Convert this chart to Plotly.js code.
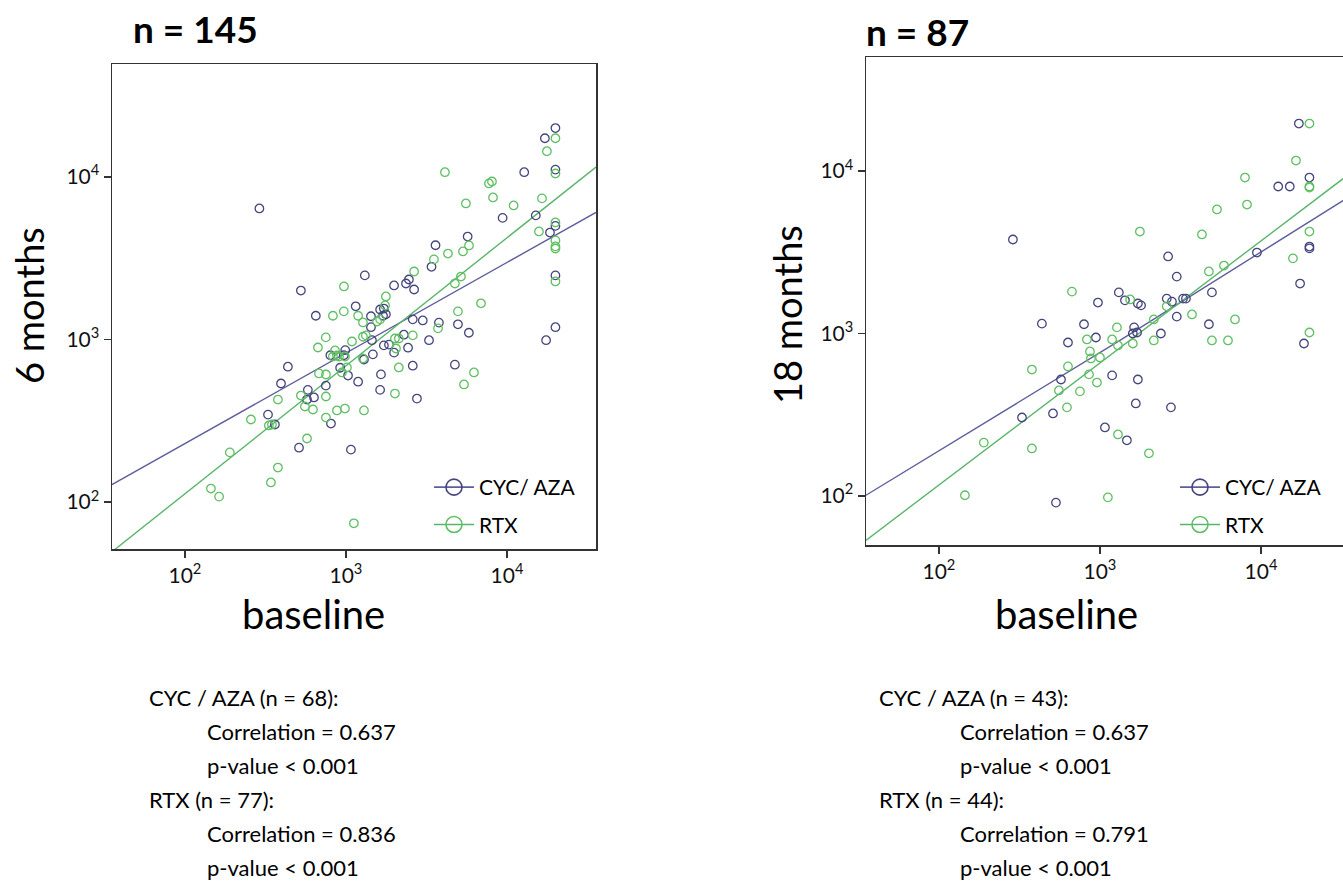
<!DOCTYPE html>
<html>
<head>
<meta charset="utf-8">
<script src="https://cdn.plot.ly/plotly-3.0.1.min.js"></script>
<style>
html,body{margin:0;padding:0;overflow:hidden;background:#fff;}
#chart{width:1360px;height:886px;}
</style>
</head>
<body>
<div id="chart"></div>
<script>
// ---------- DATA ----------
// Left panel: baseline vs 6 months (n = 145)
const leftCycBaseline = [290,20000,17200,20000,12800,9400,15100,18500,20000,5700,3600,3400,1310,525,1990,2360,2460,2650,20000,4960,5800,20000,17500,4750,1150,650,1430,1630,1720,1770,1700,1430,2600,3000,3780,1450,2290,3280,2430,1720,1850,1990,1470,800,990,970,920,1030,1190,1650,2600,436,395,750,580,633,573,1630,2760,328,362,807,511,1074,1294];
const leftCyc6m       = [6400,20000,17300,11100,10700,5600,5800,4550,5000,4300,3800,2800,2480,2000,2150,2210,2340,2030,2480,1240,1100,1190,990,700,1600,1400,1390,1530,1550,1430,1400,1190,1330,1310,1270,990,1070,990,890,920,930,830,810,800,860,800,670,600,550,610,690,680,536,520,490,440,427,490,433,345,300,304,216,210,753];
const leftRtxBaseline = [20000,17700,20000,4120,7730,8070,8190,5560,11000,16500,15800,20000,20000,20000,20000,5810,5330,4300,3520,2650,972,1770,5180,4750,20000,6900,4960,6240,5410,830,970,1190,1275,1560,1630,1750,750,670,1090,1275,1330,2015,2130,2600,2045,855,879,830,905,986,1014,944,1275,680,751,2130,3730,2015,378,525,556,624,751,879,986,1294,751,257,332,347,573,190,378,342,145,163,1120];
const leftRtx6m       = [17300,14400,10500,10700,9120,9380,7480,6870,6680,7380,4620,5250,4070,3740,3630,3790,3480,3380,3110,2620,2120,1840,2440,2210,2275,1670,1490,627,529,1400,1490,1400,1273,1290,1330,1620,1030,893,972,1040,1060,1014,1014,1060,880,856,797,786,786,786,673,627,764,618,609,673,1170,465,427,452,387,371,446,366,376,366,331,322,296,300,246,202,163,132,121,108,74];
const leftCycFitX = [35.2,1312,35700];
const leftCycFitY = [128,958,6050];
const leftRtxFitX = [35.2,1000,35700];
const leftRtxFitY = [49.4,689,11500];

// Right panel: baseline vs 18 months (n = 87)
const rightCycBaseline = [288,2650,3000,1310,972,1430,1720,1800,2600,2800,3280,3420,4960,3000,4750,436,796,633,944,1630,1600,1700,2390,573,1190,1720,1670,2760,328,511,1074,1470,533,17200,20000,12800,15100,20000,20000,9440,17500,18500];
const rightCyc18m      = [3790,2980,2240,1790,1550,1600,1530,1490,1640,1570,1640,1640,1790,1270,1140,1150,1140,880,945,1090,1000,1014,1000,521,552,521,371,351,304,322,264,220,91,19600,9120,8030,8030,3430,3340,3150,2030,868];
const rightRtxBaseline = [20000,16500,7960,20000,20000,5330,8190,4300,20000,15800,5890,4750,3730,6900,4960,6240,20000,1770,670,1540,2600,2160,1275,830,1190,1294,1600,2160,867,879,1000,378,633,855,958,556,751,624,190,378,1294,2015,145,1120];
const rightRtx18m      = [19600,11600,9120,8030,7910,5800,6220,4070,4240,2900,2620,2410,1310,1220,906,906,1014,4240,1810,1620,1470,1220,1090,919,919,844,868,906,775,702,712,600,627,560,499,446,440,351,213,196,239,183,101,98];
const rightCycFitX = [35.2,1331,35700];
const rightCycFitY = [101,906,7000];
const rightRtxFitX = [35.2,1331,35700];
const rightRtxFitY = [53.3,817,9660];

// Tick labels
const tickValues = [100,1000,10000];
const tickLabels = ['10<sup>2</sup>','10<sup>3</sup>','10<sup>4</sup>'];
const seriesNames = ['CYC/ AZA','RTX'];
const panelTitles = ['n = 145','n = 87'];
const yTitles = ['6 months','18 months'];
const xTitle = 'baseline';
const statsLeft  = ['CYC / AZA (n = 68):','Correlation = 0.637','p-value < 0.001','RTX (n = 77):','Correlation = 0.836','p-value < 0.001'];
const statsRight = ['CYC / AZA (n = 43):','Correlation = 0.637','p-value < 0.001','RTX (n = 44):','Correlation = 0.791','p-value < 0.001'];

// ---------- STYLE ----------
const W = 1360, H = 886;
const FONT = 'Lato, "Open Sans", sans-serif';
const CYC_MARK = '#45457e', CYC_LINE = '#5e5e9c';
const RTX_MARK = '#5fbf63', RTX_LINE = '#5ab56c';
const X = p => p / W;
const Y = p => 1 - p / H;

function pts(x, y, color, xa, ya){
  return {type:'scatter', mode:'markers', x:x, y:y, xaxis:xa, yaxis:ya, showlegend:false, hoverinfo:'x+y',
    marker:{symbol:'circle-open', size:8.5, color:color, line:{width:1.3, color:color}}};
}
function fit(x, y, color, xa, ya){
  return {type:'scatter', mode:'lines', x:x, y:y, xaxis:xa, yaxis:ya, showlegend:false, hoverinfo:'skip',
    line:{color:color, width:1.4}};
}
function leg(name, mcolor, lcolor, xa, ya, legend, group){
  return {type:'scatter', mode:'lines+markers', x:[null], y:[null], xaxis:xa, yaxis:ya, name:name, legend:legend,
    legendgroup:group,
    marker:{symbol:'circle-open', size:16, color:mcolor, line:{width:1.6, color:mcolor}},
    line:{color:lcolor, width:1.6}};
}

const data = [
  fit(leftCycFitX, leftCycFitY, CYC_LINE, 'x', 'y'),
  fit(leftRtxFitX, leftRtxFitY, RTX_LINE, 'x', 'y'),
  pts(leftCycBaseline, leftCyc6m, CYC_MARK, 'x', 'y'),
  pts(leftRtxBaseline, leftRtx6m, RTX_MARK, 'x', 'y'),
  fit(rightCycFitX, rightCycFitY, CYC_LINE, 'x2', 'y2'),
  fit(rightRtxFitX, rightRtxFitY, RTX_LINE, 'x2', 'y2'),
  pts(rightCycBaseline, rightCyc18m, CYC_MARK, 'x2', 'y2'),
  pts(rightRtxBaseline, rightRtx18m, RTX_MARK, 'x2', 'y2'),
  leg(seriesNames[0], CYC_MARK, CYC_LINE, 'x', 'y', 'legend', 'l1'),
  leg(seriesNames[1], RTX_MARK, RTX_LINE, 'x', 'y', 'legend', 'l2'),
  leg(seriesNames[0], CYC_MARK, CYC_LINE, 'x2', 'y2', 'legend2', 'r1'),
  leg(seriesNames[1], RTX_MARK, RTX_LINE, 'x2', 'y2', 'legend2', 'r2')
];

function axis(domain, range, anchor){
  return {type:'log', domain:domain, range:range, anchor:anchor,
    showgrid:false, zeroline:false, showline:true, mirror:true, linecolor:'#333', linewidth:1.5,
    ticks:'outside', ticklen:7, tickwidth:1.3, tickcolor:'#333',
    tickvals:tickValues, ticktext:tickLabels, tickfont:{family:FONT, size:21, color:'#111'}};
}

const annotations = [];
function txt(text, x, y, size, opts){
  annotations.push(Object.assign({text:text, x:X(x), y:Y(y), xref:'paper', yref:'paper', showarrow:false,
    xanchor:'left', yanchor:'middle', font:{family:FONT, size:size, color:'#000'}}, opts||{}));
}
txt('<b>'+panelTitles[0]+'</b>', 131, 29, 37);
txt('<b>'+panelTitles[1]+'</b>', 864, 31, 37);
txt(yTitles[0], 29, 306, 38, {xanchor:'center', textangle:-90});
txt(yTitles[1], 787, 315, 38, {xanchor:'center', textangle:-90});
txt(xTitle, 313, 614, 40, {xanchor:'center'});
txt(xTitle, 1066, 614, 40, {xanchor:'center'});
const lineY = [697,731,765,799,833,867];
const indentL = [147,205,205,147,205,205];
const indentR = [877,958,958,877,958,958];
statsLeft.forEach((s,i)=>txt(s, indentL[i], lineY[i], 22));
statsRight.forEach((s,i)=>txt(s, indentR[i], lineY[i], 22));

const legendStyle = {xanchor:'left', yanchor:'top', bgcolor:'rgba(0,0,0,0)',
  font:{family:FONT, size:21, color:'#000'}, itemwidth:40, traceorder:'grouped', tracegroupgap:7};
const layout = {
  width:W, height:H, margin:{l:0,r:0,t:0,b:0}, paper_bgcolor:'#fff', plot_bgcolor:'#fff',
  xaxis: axis([X(112), X(596)], [1.547, 4.553], 'y'),
  yaxis: axis([Y(549), Y(64)], [1.711, 4.695], 'x'),
  xaxis2: axis([X(866), X(1350)], [1.547, 4.553], 'y2'),
  yaxis2: axis([Y(545), Y(57)], [1.698, 4.702], 'x2'),
  legend: Object.assign({x:X(429), y:Y(467)}, legendStyle),
  legend2: Object.assign({x:X(1175), y:Y(467)}, legendStyle),
  annotations:annotations,
  showlegend:true
};

Plotly.newPlot('chart', data, layout, {staticPlot:true, responsive:false, displayModeBar:false});
</script>
</body>
</html>
